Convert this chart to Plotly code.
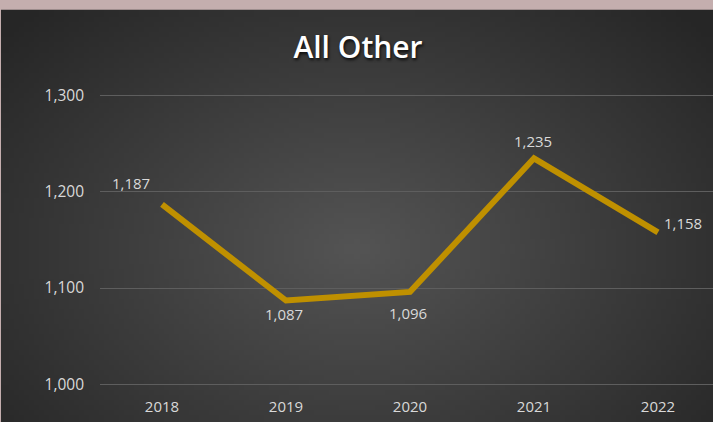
import base64, struct, zlib, math
import plotly.graph_objects as go

years = ["2018", "2019", "2020", "2021", "2022"]
values = [1187, 1087, 1096, 1235, 1158]
labels = ["1,187", "1,087", "1,096", "1,235", "1,158"]
y_ticks = [1000, 1100, 1200, 1300]
y_tick_text = ["1,000", "1,100", "1,200", "1,300"]

# data-label offsets (pixels) relative to each point
label_dx = [-31, -2, -2, -1, 25]
label_dy = [21, -13, -21, 17, 9]

W, H = 713, 422
ML, MR, MT, MB = 100, 0, 96, 38
Y0, Y1 = 1000, 1300


def make_png(w, h, pixel):
    raw = bytearray()
    for j in range(h):
        raw.append(0)
        for i in range(w):
            raw.extend(pixel(i, j))
    def chunk(tag, data):
        return struct.pack(">I", len(data)) + tag + data + struct.pack(">I", zlib.crc32(tag + data) & 0xffffffff)
    png = b"\x89PNG\r\n\x1a\n"
    png += chunk(b"IHDR", struct.pack(">IIBBBBB", w, h, 8, 2, 0, 0, 0))
    png += chunk(b"IDAT", zlib.compress(bytes(raw), 9))
    png += chunk(b"IEND", b"")
    return "data:image/png;base64," + base64.b64encode(png).decode()


gw, gh = 142, 82
c_in, c_out = 84, 38


def grad(i, j):
    x = (i + 0.5) / gw
    y = (j + 0.5) / gh
    d = math.sqrt(((x - 0.5) / 0.66) ** 2 + ((y - 0.58) / 0.8) ** 2)
    d = min(d, 1.0)
    v = int(round(c_in + (c_out - c_in) * d))
    return (v, v, v)


bg = make_png(gw, gh, grad)

pw = W - ML - MR
ph = H - MT - MB
ppu = ph / (Y1 - Y0)
pad = 4  # range padding (data units) so edge gridlines render
padpx = pad * ppu
tm, bm = MT - padpx, MB - padpx
phe = H - tm - bm

fig = go.Figure()
fig.add_trace(go.Scatter(
    x=list(range(len(years))), y=values, mode="lines",
    line=dict(color="#BF9000", width=6),
    hoverinfo="skip", showlegend=False,
))

for i, (v, t) in enumerate(zip(values, labels)):
    fig.add_annotation(x=i, y=v, text=t, showarrow=False,
                       xshift=label_dx[i], yshift=label_dy[i],
                       xanchor="center", yanchor="middle",
                       font=dict(color="#D9D9D9", size=15, family="Open Sans"))

fig.update_layout(
    width=W, height=H,
    margin=dict(l=ML, r=MR, t=tm, b=bm),
    paper_bgcolor="#C4AEAE",
    plot_bgcolor="rgba(0,0,0,0)",
    title=dict(text="All Other", x=358 / W, xref="container", xanchor="center",
               y=1 - 47 / H, yref="container", yanchor="middle",
               font=dict(family="Open Sans", size=30, color="white", weight=600,
                         shadow="1px 2px 3px rgba(0,0,0,0.8)")),
    images=[dict(source=bg, xref="paper", yref="paper",
                 x=-(ML - 1) / pw, y=1 + (tm - 10) / phe,
                 sizex=(W - 1) / pw, sizey=(H - 10) / phe,
                 xanchor="left", yanchor="top", sizing="stretch", layer="below")],
    xaxis=dict(range=[-0.5, -0.5 + pw / 124], tickmode="array",
               tickvals=list(range(len(years))), ticktext=years,
               showgrid=False, zeroline=False, showline=False,
               tickfont=dict(color="#D9D9D9", size=15, family="Open Sans"),
               ticklabelstandoff=8),
    yaxis=dict(range=[Y0 - pad, Y1 + pad], tickmode="array", tickvals=y_ticks, ticktext=y_tick_text,
               showgrid=True, gridcolor="#5E5E5E", gridwidth=1, zeroline=False, showline=False,
               tickfont=dict(color="#D9D9D9", size=15.5, family="Open Sans"),
               ticklabelstandoff=15),
)

fig.write_html("out.html", config={"displayModeBar": False},
               post_script="document.body.style.margin='0px';")
